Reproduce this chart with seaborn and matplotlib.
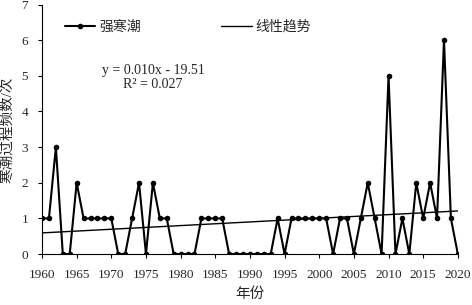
import numpy as np
import pandas as pd
import matplotlib
matplotlib.use("Agg")
import matplotlib.pyplot as plt
import seaborn as sns

# yearly cold-wave counts, 1960-2020
years = list(range(1960, 2021))
counts = [1, 1, 3, 0, 0, 2, 1, 1, 1, 1,
          1, 0, 0, 1, 2, 0, 2, 1, 1, 0,
          0, 0, 0, 1, 1, 1, 1, 0, 0, 0,
          0, 0, 0, 0, 1, 0, 1, 1, 1, 1,
          1, 1, 0, 1, 1, 0, 1, 2, 1, 0,
          5, 0, 1, 0, 2, 1, 2, 1, 6, 1,
          0]
x_ticks = list(range(1960, 2021, 5))
y_ticks = list(range(0, 8))

df = pd.DataFrame({"year": years, "count": counts})

sns.set_style("white")
plt.rcParams["font.family"] = ["Liberation Serif", "Noto Sans CJK SC"]
plt.rcParams["font.size"] = 9

fig = plt.figure(figsize=(4.72, 3.05), dpi=100)
ax = fig.add_axes([0.089, 0.167, 0.881, 0.818])

sns.lineplot(data=df, x="year", y="count", ax=ax, color="black", lw=1.5,
             marker="o", markersize=4, markeredgewidth=0, label="强寒潮")

# linear trend fitted from the series
slope, icpt = np.polyfit(years, counts, 1)
pred = slope * np.array(years) + icpt
r2 = 1 - np.sum((np.array(counts) - pred) ** 2) / np.sum((np.array(counts) - np.mean(counts)) ** 2)
sns.regplot(data=df, x="year", y="count", ax=ax, scatter=False, ci=None,
            color="black", line_kws={"lw": 1.0}, label="线性趋势")

ax.text(1976, 4.95, f"y = {slope:.3f}x - {abs(icpt):.2f}\nR² = {r2:.3f}",
        ha="center", va="center", fontsize=10, linespacing=1.1)

ax.set_xlim(1960, 2020)
ax.set_ylim(0, 7)
ax.set_xticks(x_ticks)
ax.set_yticks(y_ticks)
ax.set_xlabel("年份", fontsize=10.5, labelpad=4)
ax.set_ylabel("寒潮过程频数/次", fontsize=10.5, labelpad=5)
ax.tick_params(axis="both", direction="out", length=3, width=0.8, color="black",
               labelsize=9.5, bottom=True, left=True)
ax.tick_params(axis="x", pad=8)
ax.tick_params(axis="y", pad=7)
sns.despine(ax=ax)
for s in ["left", "bottom"]:
    ax.spines[s].set_color("black")
    ax.spines[s].set_linewidth(0.8)

ax.legend(ncol=2, frameon=False, loc="center left", bbox_to_anchor=(0.055, 0.91),
          borderpad=0, borderaxespad=0, handlelength=2.2, columnspacing=5.8,
          handletextpad=0.25, fontsize=10)

fig.savefig("out.png", dpi=100)
